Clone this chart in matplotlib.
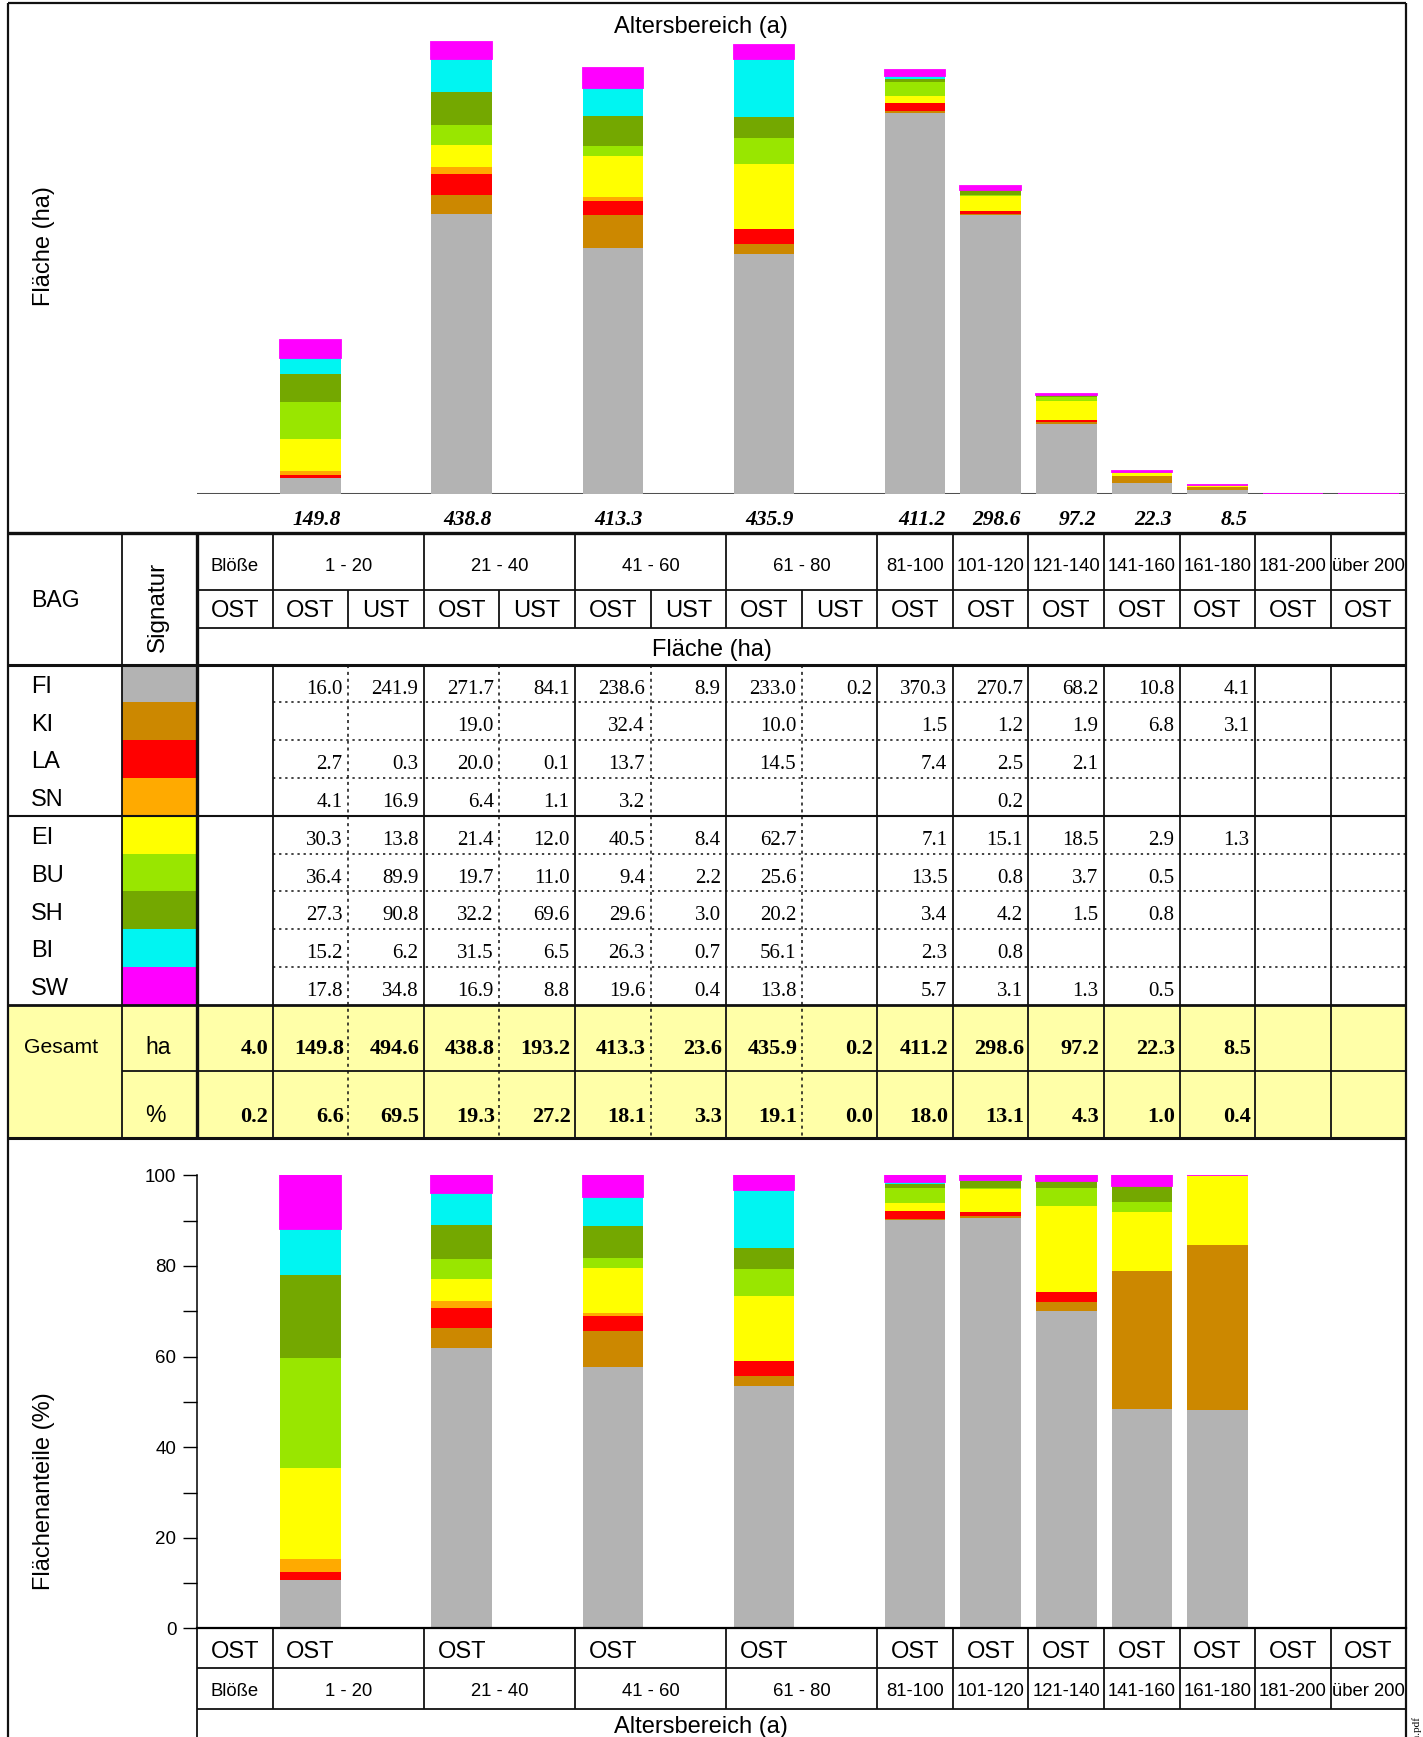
import numpy as np
import matplotlib.pyplot as plt
from matplotlib.patches import Rectangle
from matplotlib.ticker import MultipleLocator

# age groups and the sub-columns (OST / UST) of the table
age_groups = ["Blöße", "1 - 20", "21 - 40", "41 - 60", "61 - 80", "81-100", "101-120",
              "121-140", "141-160", "161-180", "181-200", "über 200"]
group_span = [1, 2, 2, 2, 2, 1, 1, 1, 1, 1, 1, 1]
col_kind = ["OST", "OST", "UST", "OST", "UST", "OST", "UST", "OST", "UST",
            "OST", "OST", "OST", "OST", "OST", "OST", "OST"]

species = ["FI", "KI", "LA", "SN", "EI", "BU", "SH", "BI", "SW"]
colors = ["#b3b3b3", "#cc8800", "#ff0000", "#ffaa00", "#ffff00",
          "#99e600", "#74a800", "#00f5f2", "#ff00ff"]

n = np.nan
# area (ha) per species and column, Blöße column has no species
fi = [n, 16.0, 241.9, 271.7, 84.1, 238.6, 8.9, 233.0, 0.2, 370.3, 270.7, 68.2, 10.8, 4.1, n, n]
ki = [n, n, n, 19.0, n, 32.4, n, 10.0, n, 1.5, 1.2, 1.9, 6.8, 3.1, n, n]
la = [n, 2.7, 0.3, 20.0, 0.1, 13.7, n, 14.5, n, 7.4, 2.5, 2.1, n, n, n, n]
sn = [n, 4.1, 16.9, 6.4, 1.1, 3.2, n, n, n, n, 0.2, n, n, n, n, n]
ei = [n, 30.3, 13.8, 21.4, 12.0, 40.5, 8.4, 62.7, n, 7.1, 15.1, 18.5, 2.9, 1.3, n, n]
bu = [n, 36.4, 89.9, 19.7, 11.0, 9.4, 2.2, 25.6, n, 13.5, 0.8, 3.7, 0.5, n, n, n]
sh = [n, 27.3, 90.8, 32.2, 69.6, 29.6, 3.0, 20.2, n, 3.4, 4.2, 1.5, 0.8, n, n, n]
bi = [n, 15.2, 6.2, 31.5, 6.5, 26.3, 0.7, 56.1, n, 2.3, 0.8, n, n, n, n, n]
sw = [n, 17.8, 34.8, 16.9, 8.8, 19.6, 0.4, 13.8, n, 5.7, 3.1, 1.3, 0.5, n, n, n]
data = np.array([fi, ki, la, sn, ei, bu, sh, bi, sw])

gesamt_ha = [4.0, 149.8, 494.6, 438.8, 193.2, 413.3, 23.6, 435.9, 0.2, 411.2, 298.6, 97.2, 22.3, 8.5, n, n]
gesamt_pct = [0.2, 6.6, 69.5, 19.3, 27.2, 18.1, 3.3, 19.1, 0.0, 18.0, 13.1, 4.3, 1.0, 0.4, n, n]

SANS = ["Liberation Sans", "DejaVu Sans"]
SERIF = ["Liberation Serif", "DejaVu Serif"]

W, H = 1285, 1568
fig = plt.figure(figsize=(14.23, 17.37), dpi=100)
bg = fig.add_axes([0, 0, 1, 1])
bg.set_xlim(0, W)
bg.set_ylim(H, 0)
bg.axis("off")


def box(l, t, r, b):
    return [l / W, 1 - b / H, (r - l) / W, (b - t) / H]


def line(x0, x1, y0, y1, lw=1.0, ls="-"):
    bg.plot([x0, x1], [y0, y1], color="#111111", lw=lw, ls=ls, solid_capstyle="butt")


def txt(x, y, s, size=17, family=SANS, **kw):
    bg.text(x, y, s, fontsize=size, family=family, ha=kw.pop("ha", "center"),
            va=kw.pop("va", "center"), **kw)


X0, X1, CW = 178, 1270, (1270 - 178) / 16
edges = [X0 + i * CW for i in range(17)]
g_edges = np.concatenate([[0], np.cumsum(group_span)])
split_cols = [i for i in range(1, 16) if col_kind[i] == "UST"]
ost_idx = [i for i in range(1, 16) if col_kind[i] == "OST"]
xpos = np.array(ost_idx) + 0.5

# ---- top chart: area in ha
ax1 = fig.add_axes(box(X0, 10, X1, 446))
ax1.patch.set_alpha(0)
bottom = np.zeros(len(ost_idx))
for name, vals, c in zip(species, data, colors):
    h = np.nan_to_num(vals[ost_idx])
    is_sw = name == "SW"
    ax1.bar(xpos, h, 0.8, bottom=bottom, color=c, edgecolor=c if is_sw else "none",
            linewidth=1.3 if is_sw else 0, zorder=2)
    bottom += h
ax1.axhline(0, color="#505050", lw=2.2, zorder=1)
ax1.set_xlim(0, 16)
ax1.set_ylim(0, 436 / 0.93)
ax1.axis("off")
for i in ost_idx:
    v = gesamt_ha[i]
    if not np.isnan(v):
        ax1.text(i + 0.9, -25, f"{v:.1f}", ha="right", va="center", fontsize=15.5,
                 family=SERIF, fontweight="bold", style="italic")

txt(633, 24, "Altersbereich (a)")
txt(40, 222, "Fläche (ha)", rotation=90)

# ---- bottom chart: share in %
ax2 = fig.add_axes(box(X0, 1061, X1, 1470))
ax2.patch.set_alpha(0)
tot = np.nansum(data[:, ost_idx], axis=0)
ok = tot > 0
bottom = np.zeros(ok.sum())
for name, vals, c in zip(species, data, colors):
    p = np.nan_to_num(vals[ost_idx])[ok] / tot[ok] * 100
    is_sw = name == "SW"
    ax2.bar(xpos[ok], p, 0.8, bottom=bottom, color=c, edgecolor=c if is_sw else "none",
            linewidth=1.3 if is_sw else 0)
    bottom += p
ax2.set_xlim(0, 16)
ax2.set_ylim(0, 100)
ax2.set_xticks([])
ax2.yaxis.set_major_locator(MultipleLocator(20))
ax2.yaxis.set_minor_locator(MultipleLocator(10))
ax2.tick_params(axis="y", which="both", length=10, width=1, direction="out", pad=5, labelsize=13.5)
for lab in ax2.get_yticklabels():
    lab.set_family(SANS)
for s in ["top", "right"]:
    ax2.spines[s].set_visible(False)
ax2.spines["left"].set_linewidth(1.1)
ax2.spines["bottom"].set_linewidth(1.6)

txt(40, 1346, "Flächenanteile (%)", rotation=90)

# ---- table
ROW0, RH = 600, (907 - 600) / 9
bg.add_patch(Rectangle((7, 907), X1 - 7, 120, facecolor="#ffffa8", edgecolor="none", zorder=0))
for k, (name, c) in enumerate(zip(species, colors)):
    top = ROW0 + k * RH
    bg.add_patch(Rectangle((110, top), X0 - 110, RH, facecolor=c, edgecolor="none", zorder=0))
    txt(28, top + RH / 2 + 3, name, ha="left")
    for j in range(1, 16):
        v = data[k, j]
        if not np.isnan(v):
            txt(edges[j + 1] - 5, top + RH / 2 + 5, f"{v:.1f}", size=15, family=SERIF, ha="right")
    if k not in (0, 4):
        line(edges[1], X1, top, top, lw=1.1, ls=(0, (1.5, 2.5)))

txt(55, 946, "Gesamt", size=15.2)
txt(143, 946, "ha", size=16.5)
txt(140, 1007, "%", size=16.5)
for j in range(16):
    for v, y in ((gesamt_ha[j], 947), (gesamt_pct[j], 1008)):
        if not np.isnan(v):
            txt(edges[j + 1] - 4, y, f"{v:.1f}", size=16, family=SERIF, ha="right",
                fontweight="bold")

# header
txt(50, 542, "BAG", size=16.6)
txt(143, 548, "Signatur", rotation=90, size=17.5)
for g, lab in enumerate(age_groups):
    xc = (edges[g_edges[g]] + edges[g_edges[g + 1]]) / 2
    txt(xc, 511, lab, size=13.3)
    txt(xc, 1527, lab, size=13.3)
for j, kind in enumerate(col_kind):
    txt((edges[j] + edges[j + 1]) / 2, 552, kind)
    if kind == "OST":
        txt((edges[j] + edges[j + 1]) / 2, 1491, kind)
txt(643, 587, "Fläche (ha)")
txt(633, 1559, "Altersbereich (a)")

# table lines
line(7, X1, 481, 481, lw=2.4)
line(7, X1, 600, 600, lw=2.2)
line(7, X1, 737, 737, lw=1.5)
line(7, X1, 907, 907, lw=2.0)
line(110, X1, 967, 967, lw=1.3)
line(7, X1, 1027, 1027, lw=2.2)
line(X0, X1, 533, 533, lw=1.3)
line(X0, X1, 567, 567, lw=1.3)
line(110, 110, 481, 1027, lw=1.3)
line(X0, X0, 481, 1027, lw=2.4)
for g in g_edges[1:-1]:
    line(edges[g], edges[g], 481, 567, lw=1.3)
    line(edges[g], edges[g], 600, 1027, lw=1.3)
    line(edges[g], edges[g], 1470, 1543, lw=1.3)
for j in split_cols:
    line(edges[j], edges[j], 533, 567, lw=1.3)
    line(edges[j], edges[j], 600, 1027, lw=1.1, ls=(0, (2, 2.5)))
line(X0, X1, 1506, 1506, lw=1.3)
line(X0, X1, 1543, 1543, lw=1.3)
line(X0, X0, 1470, H, lw=1.3)

# outer frame
line(7, X1, 3, 3, lw=1.6)
line(7, 7, 3, H, lw=1.6)
line(X1, X1, 3, H, lw=1.6)

bg.text(1279, 1549, "Flaechen.pdf", rotation=90, ha="center", va="top", fontsize=8, family=SERIF)

fig.savefig("out.png", dpi=100)
